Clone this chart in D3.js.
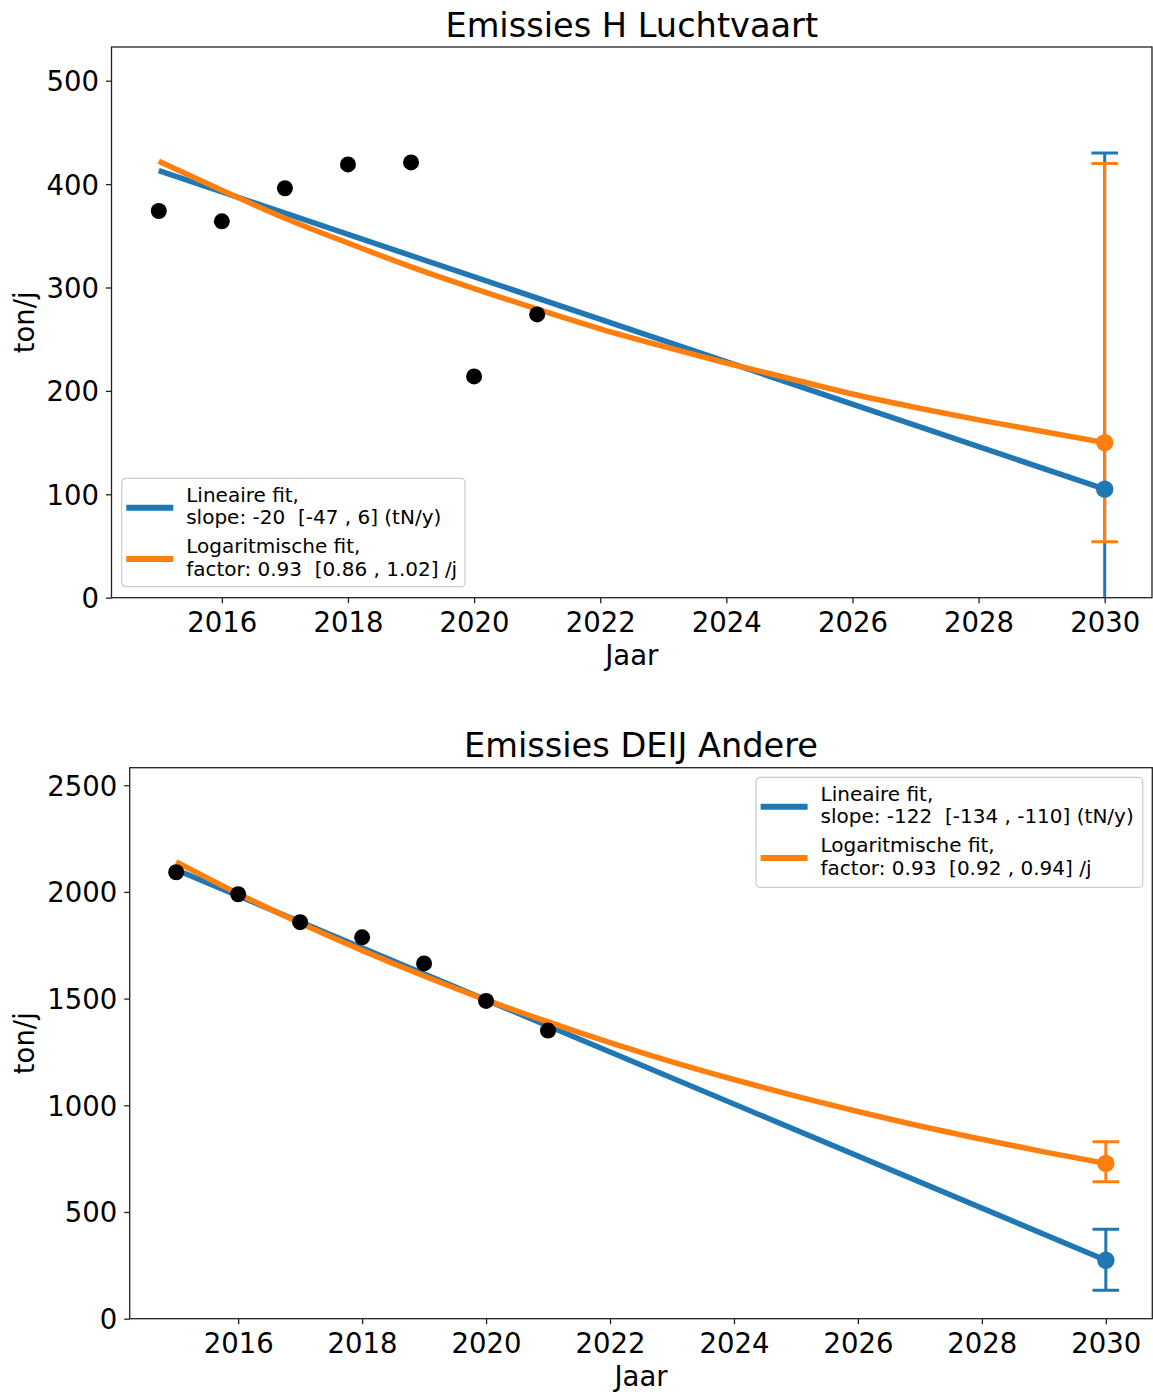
<!DOCTYPE html>
<html>
<head>
<meta charset="utf-8">
<script src="https://cdn.jsdelivr.net/npm/d3@7.9.0/dist/d3.min.js"></script>
<style>
  body { margin: 0; background: #fff; overflow: hidden; }
  svg { display: block; font-family: "DejaVu Sans", sans-serif; }
  .legend text { white-space: pre; }
</style>
</head>
<body>
<div id="chart"></div>
<script>
// jaren met metingen
const years = [2015, 2016, 2017, 2018, 2019, 2020, 2021];
// jaren voor de fitlijnen
const fitYears = [2015, 2016, 2017, 2018, 2019, 2020, 2021, 2022, 2023, 2024, 2025, 2026, 2027, 2028, 2029, 2030];
const linYears = [2015, 2030];
const forecastYear = 2030;

// H Luchtvaart (ton/j)
const luchtvaartValues = [374, 364, 396, 419, 421, 214, 274];
const luchtvaartLinFit = [413, 105];
const luchtvaartLogFit = [422, 394, 367, 343, 320, 299, 279, 260, 243, 227, 212, 197, 184, 172, 161, 150];
const luchtvaartForecast = [105, 150];     // [lineair, logaritmisch]
const luchtvaartLow = [-220, 54];
const luchtvaartHigh = [430, 420];
const luchtvaartLegend = [
  ['Lineaire fit,', 'slope: -20  [-47 , 6] (tN/y)'],
  ['Logaritmische fit,', 'factor: 0.93  [0.86 , 1.02] /j'],
];

// DEIJ Andere (ton/j)
const andereValues = [2092, 1989, 1858, 1787, 1665, 1489, 1350];
const andereLinFit = [2104, 274];
const andereLogFit = [2141, 1992, 1854, 1726, 1606, 1494, 1391, 1294, 1204, 1121, 1043, 971, 903, 841, 782, 728];
const andereForecast = [274, 728];
const andereLow = [133, 642];
const andereHigh = [419, 829];
const andereLegend = [
  ['Lineaire fit,', 'slope: -122  [-134 , -110] (tN/y)'],
  ['Logaritmische fit,', 'factor: 0.93  [0.92 , 0.94] /j'],
];

const xTicks = [2016, 2018, 2020, 2022, 2024, 2026, 2028, 2030];
const colors = ['#1f77b4', '#ff7f0e'];

const width = 1153;
const height = 1392;

const svg = d3.select('#chart')
  .append('svg')
  .attr('width', width)
  .attr('height', height);

function drawPanel(p) {
  const x = d3.scaleLinear()
    .domain([2014.25, 2030.75])
    .range([p.left, p.right]);
  const y = d3.scaleLinear()
    .domain([0, p.yMax])
    .range([p.bottom, p.top]);

  const g = svg.append('g');

  g.append('clipPath')
    .attr('id', p.id + '-clip')
    .append('rect')
    .attr('x', p.left)
    .attr('y', p.top)
    .attr('width', p.right - p.left)
    .attr('height', p.bottom - p.top);

  const plot = g.append('g').attr('clip-path', `url(#${p.id}-clip)`);

  // fitlijnen
  const line = d3.line()
    .x(d => x(d[0]))
    .y(d => y(d[1]));
  const curve = d3.line()
    .x(d => x(d[0]))
    .y(d => y(d[1]))
    .curve(d3.curveMonotoneX);

  plot.append('path')
    .datum(d3.zip(linYears, p.linFit))
    .attr('d', line)
    .attr('fill', 'none')
    .attr('stroke', colors[0])
    .attr('stroke-width', 5.5);

  plot.append('path')
    .datum(d3.zip(fitYears, p.logFit))
    .attr('d', curve)
    .attr('fill', 'none')
    .attr('stroke', colors[1])
    .attr('stroke-width', 5.5);

  // foutbalken in 2030
  const bars = p.forecast.map((v, i) => ({ v, lo: p.low[i], hi: p.high[i], c: colors[i] }));
  const cap = 13.3;
  bars.forEach(b => {
    plot.append('line')
      .attr('x1', x(forecastYear)).attr('x2', x(forecastYear))
      .attr('y1', y(b.lo)).attr('y2', y(b.hi))
      .attr('stroke', b.c).attr('stroke-width', 3);
    [b.lo, b.hi].forEach(e => {
      plot.append('line')
        .attr('x1', x(forecastYear) - cap).attr('x2', x(forecastYear) + cap)
        .attr('y1', y(e)).attr('y2', y(e))
        .attr('stroke', b.c).attr('stroke-width', 3);
    });
  });

  plot.selectAll('circle.forecast')
    .data(bars)
    .join('circle')
    .attr('class', 'forecast')
    .attr('cx', x(forecastYear))
    .attr('cy', d => y(d.v))
    .attr('r', 8.7)
    .attr('fill', d => d.c);

  // meetpunten
  plot.selectAll('circle.point')
    .data(d3.zip(years, p.values))
    .join('circle')
    .attr('class', 'point')
    .attr('cx', d => x(d[0]))
    .attr('cy', d => y(d[1]))
    .attr('r', 8)
    .attr('fill', '#000');

  // assen
  const xAxis = g.append('g')
    .attr('transform', `translate(0, ${p.bottom})`)
    .call(d3.axisBottom(x).tickValues(xTicks).tickFormat(d3.format('d')).tickSize(5.5).tickPadding(9));
  const yAxis = g.append('g')
    .attr('transform', `translate(${p.left}, 0)`)
    .call(d3.axisLeft(y).tickValues(p.yTicks).tickFormat(d3.format('d')).tickSize(5.5).tickPadding(7));

  [xAxis, yAxis].forEach(a => {
    a.select('.domain').remove();
    a.selectAll('line').attr('stroke', '#222').attr('stroke-width', 1.3);
    a.selectAll('text')
      .attr('fill', '#000')
      .style('font-size', '27.5px')
      .style('font-family', '"DejaVu Sans", sans-serif');
  });
  yAxis.selectAll('text').attr('dy', '0.36em');

  g.append('rect')
    .attr('x', p.left)
    .attr('y', p.top)
    .attr('width', p.right - p.left)
    .attr('height', p.bottom - p.top)
    .attr('fill', 'none')
    .attr('stroke', '#222')
    .attr('stroke-width', 1.3);

  // titel en labels
  g.append('text')
    .attr('x', (p.left + p.right) / 2)
    .attr('y', p.top - 10.3)
    .attr('text-anchor', 'middle')
    .style('font-size', '33.6px')
    .text(p.title);

  g.append('text')
    .attr('x', (p.left + p.right) / 2)
    .attr('y', p.bottom + 67.3)
    .attr('text-anchor', 'middle')
    .style('font-size', '27.5px')
    .text('Jaar');

  g.append('text')
    .attr('transform', `translate(34, ${(p.top + p.bottom) / 2}) rotate(-90)`)
    .attr('text-anchor', 'middle')
    .style('font-size', '27.5px')
    .text('ton/j');

  // legenda
  const lg = g.append('g')
    .attr('class', 'legend')
    .attr('transform', `translate(${p.legend.x}, ${p.legend.y})`);

  lg.append('rect')
    .attr('width', p.legend.w)
    .attr('height', p.legend.h)
    .attr('rx', 4)
    .attr('fill', '#fff')
    .attr('fill-opacity', 0.8)
    .attr('stroke', '#cccccc')
    .attr('stroke-width', 1.2);

  const entries = lg.selectAll('g.entry')
    .data(p.legendText)
    .join('g')
    .attr('class', 'entry')
    .attr('transform', (d, i) => `translate(0, ${i * 51.3})`);

  entries.append('line')
    .attr('x1', 4.6).attr('x2', 51.6)
    .attr('y1', 29.4).attr('y2', 29.4)
    .attr('stroke', (d, i) => colors[i])
    .attr('stroke-width', 6);

  entries.selectAll('text')
    .data(d => d)
    .join('text')
    .attr('x', 64.5)
    .attr('y', (d, i) => 23.4 + i * 22.6)
    .style('font-size', '20px')
    .text(d => d);
}

drawPanel({
  id: 'top',
  title: 'Emissies H Luchtvaart',
  left: 111.5, right: 1152, top: 47, bottom: 597.7,
  yMax: 532.6,
  yTicks: [0, 100, 200, 300, 400, 500],
  values: luchtvaartValues,
  linFit: luchtvaartLinFit,
  logFit: luchtvaartLogFit,
  forecast: luchtvaartForecast,
  low: luchtvaartLow,
  high: luchtvaartHigh,
  legendText: luchtvaartLegend,
  legend: { x: 121.7, y: 478.3, w: 343.3, h: 108.4 },
});

drawPanel({
  id: 'bottom',
  title: 'Emissies DEIJ Andere',
  left: 129.7, right: 1152.3, top: 767.7, bottom: 1318.7,
  yMax: 2582,
  yTicks: [0, 500, 1000, 1500, 2000, 2500],
  values: andereValues,
  linFit: andereLinFit,
  logFit: andereLogFit,
  forecast: andereForecast,
  low: andereLow,
  high: andereHigh,
  legendText: andereLegend,
  legend: { x: 756, y: 777.3, w: 386.7, h: 110 },
});
</script>
</body>
</html>
